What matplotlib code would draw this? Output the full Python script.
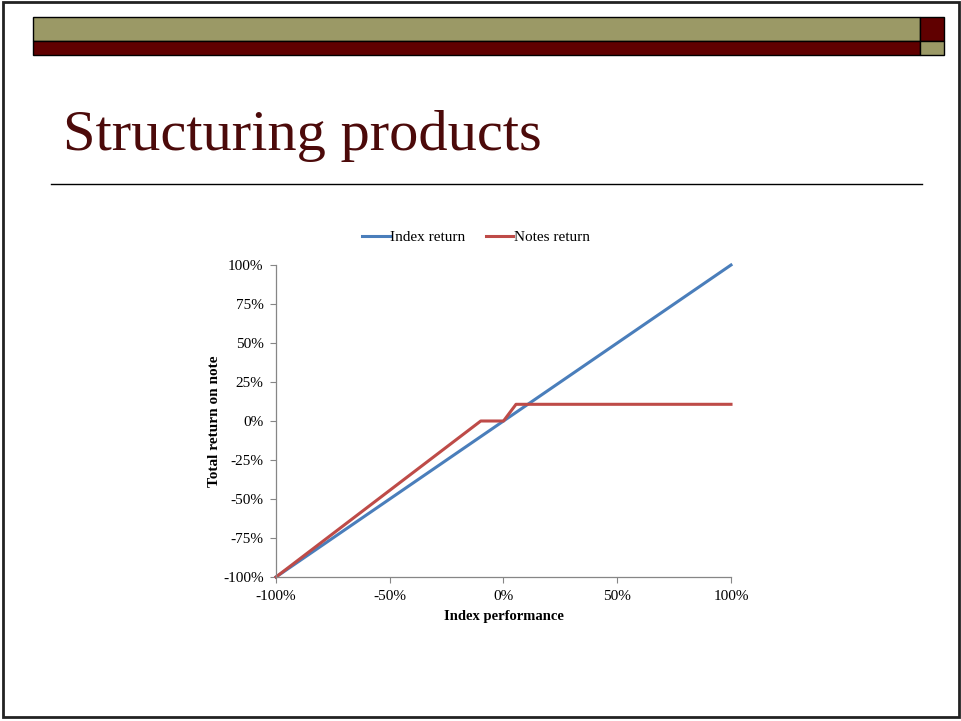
import matplotlib
matplotlib.use("Agg")
import matplotlib.pyplot as plt
from matplotlib.patches import Rectangle
from matplotlib.lines import Line2D
from matplotlib.ticker import FuncFormatter

# Payoff data (percent)
index_perf = [-100, 100]
index_return = [-100, 100]
notes_x = [-100, -10, 0, 5.5, 100]
notes_return = [-100, 0, 0, 10.7, 10.7]

x_ticks = [-100, -50, 0, 50, 100]
y_ticks = [-100, -75, -50, -25, 0, 25, 50, 75, 100]

title = "Structuring products"
legend_labels = ["Index return", "Notes return"]
x_label = "Index performance"
y_label = "Total return on note"

W, H = 961, 721
fig = plt.figure(figsize=(W / 100, H / 100), dpi=100)
serif = ["Liberation Serif", "DejaVu Serif"]
plt.rcParams["font.family"] = serif

olive = "#9B9966"
maroon = "#600000"
blue = "#4A7EBB"
red = "#BE4B48"


def px_rect(x0, y0, x1, y1, color, lw=1.0, ec="black"):
    fig.add_artist(Rectangle((x0 / W, 1 - y1 / H), (x1 - x0) / W, (y1 - y0) / H,
                             transform=fig.transFigure, facecolor=color,
                             edgecolor=ec, linewidth=lw))


# slide frame
fig.add_artist(Rectangle((3 / W, 1 - 717 / H), 956 / W, 715 / H,
                         transform=fig.transFigure, facecolor="none",
                         edgecolor="#222222", linewidth=2))

# header bars
px_rect(33, 17, 920, 41, olive)
px_rect(920, 17, 944, 41, maroon)
px_rect(33, 41, 920, 55, maroon)
px_rect(920, 41, 944, 55, olive)

# title and rule
fig.text(63 / W, 1 - 150 / H, title, fontsize=42, color="#4C0A0A",
         ha="left", va="baseline", family=serif)
fig.add_artist(Line2D([51 / W, 922 / W], [1 - 184 / H, 1 - 184 / H],
                      transform=fig.transFigure, color="black", linewidth=1.0))

# chart
ax = fig.add_axes([276 / W, 1 - 577 / H, (731 - 276) / W, (577 - 265) / H])
ax.plot(index_perf, index_return, color=blue, linewidth=2.2, label=legend_labels[0])
ax.plot(notes_x, notes_return, color=red, linewidth=2.2, label=legend_labels[1])
ax.set_xlim(-100, 100)
ax.set_ylim(-100, 100)
ax.set_xticks(x_ticks)
ax.set_yticks(y_ticks)
pct = FuncFormatter(lambda v, p: f"{v:.0f}%")
ax.xaxis.set_major_formatter(pct)
ax.yaxis.set_major_formatter(pct)
for s in ["top", "right"]:
    ax.spines[s].set_visible(False)
for s in ["left", "bottom"]:
    ax.spines[s].set_color("#868686")
    ax.spines[s].set_linewidth(0.9)
ax.tick_params(axis="both", direction="out", length=4, width=0.8,
               color="#868686", labelsize=11, labelcolor="black")
ax.tick_params(axis="x", pad=5.5)
ax.tick_params(axis="y", pad=5)
for lab in ax.get_xticklabels() + ax.get_yticklabels():
    lab.set_family(serif)
ax.set_xlabel(x_label, fontsize=10.5, fontweight="bold", labelpad=5)
ax.set_ylabel(y_label, fontsize=11, fontweight="bold", labelpad=1)
ax.patch.set_alpha(0)
for ln in ax.lines:
    ln.set_clip_on(False)

leg = fig.legend(handles=ax.lines, labels=legend_labels, loc="center",
                 bbox_to_anchor=(476 / W, 1 - 237 / H), ncol=2,
                 frameon=False, fontsize=11, handlelength=1.8,
                 handletextpad=0.05, columnspacing=1.3, borderaxespad=0,
                 borderpad=0)

fig.savefig("out.png", dpi=100)
